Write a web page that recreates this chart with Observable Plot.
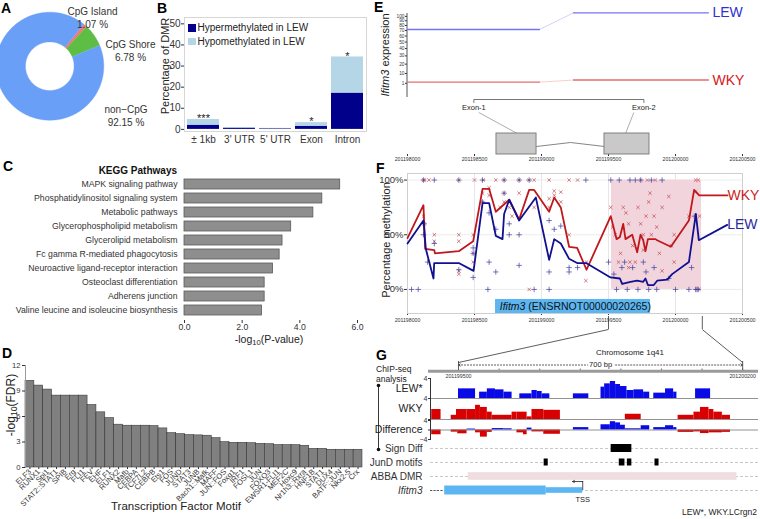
<!DOCTYPE html>
<html><head><meta charset="utf-8">
<script src="https://cdn.jsdelivr.net/npm/d3@7"></script>
<script src="https://cdn.jsdelivr.net/npm/@observablehq/plot@0.6"></script>
<style>
body{margin:0;background:#fff;font-family:"Liberation Sans",Arial,Helvetica,sans-serif}
#fig{position:relative;width:760px;height:519px;overflow:hidden;background:#fff}
#fig svg{position:absolute}
sub{font-size:0.72em;line-height:0;vertical-align:-0.25em}
</style></head>
<body><div id="fig"></div>
<script>
// ---------------- DATA ----------------
// A: CpG context of DMRs
const cpgCategories = ["CpG Island", "CpG Shore", "non\u2212CpG"];
const cpgPercent = [1.07, 6.78, 92.15];
const cpgColors = ["#f07a72", "#5dbd44", "#6a9ff8"];
// B: DMR distribution by genomic region
const regionLabels = ["\u00b1 1kb", "3' UTR", "5' UTR", "Exon", "Intron"];
const hyperValues = [2.0, 0.6, 0.3, 1.5, 17.2];
const hypoValues = [2.7, 0.3, 0.2, 1.7, 17.1];
const regionStars = ["***", "", "", "*", "*"];
const methTypes = ["Hypermethylated in LEW", "Hypomethylated in LEW"];
// C: KEGG pathways
const keggPathways = ["MAPK signaling pathway", "Phosphatidylinositol signaling system", "Metabolic pathways",
  "Glycerophospholipid metabolism", "Glycerolipid metabolism", "Fc gamma R-mediated phagocytosis",
  "Neuroactive ligand-receptor interaction", "Osteoclast differentiation", "Adherens junction",
  "Valine leucine and isoleucine biosynthesis"];
const keggLogP = [5.4, 4.78, 4.47, 3.7, 3.4, 3.3, 3.07, 2.78, 2.78, 2.69];
// D: transcription factor motifs
const tfMotifs = ["ELF3", "RUNX1", "Spi1", "STAT2::STAT1", "SPIB", "Erg", "FLI1", "FEV", "EHF", "ELF1", "RUNX2",
  "Mafb", "CEBPA", "TCF7L2", "CEBPB", "Ets1", "FOS", "JUND", "STAT3", "JUNB", "Bach1::Mafk", "MAFF", "JUN::FOS",
  "Foxq1", "IRF1", "FOSL1", "JUN", "FOXO3", "EWSR1-FLI1", "MEF2C", "Hoxc9", "Nr1h3::Rxra", "HNF1B", "STAT1",
  "DUX4", "BATF::JUN", "Nkx2-5", "Crx"];
const tfLogFDR = [10.2, 9.64, 9.17, 8.46, 8.46, 8.46, 8.46, 7.36, 6.49, 5.82, 5.04, 4.92, 4.92, 4.92, 4.88, 4.6,
  4.05, 3.93, 3.82, 3.78, 3.74, 3.46, 2.99, 2.91, 2.91, 2.87, 2.79, 2.75, 2.64, 2.64, 2.64, 2.56, 2.2, 2.2,
  2.09, 2.09, 2.09, 2.09];
// E: Ifitm3 expression per exon probe
const exprStrains = ["LEW", "WKY"];
const exprColors = ["#7474f2", "#e46e6e"];
const labelColorsE = ["#3030d0", "#d42020"];
const exprProbe1 = [72, 2.0];
const exprProbe2 = [108.6, 3.9];
const probe1Span = [201198000, 201198985];
const probe2Span = [201199239, 201200246];
const exprTicks = [1, 10, 20, 30, 40, 50, 60, 70, 80, 90, 100];
const exonNames = ["Exon-1", "Exon-2"];
const exonStarts = [201198664, 201199470];
const exonEnds = [201198963, 201199806];
const exonLabelPos = [201198495, 201199764];
const genomeTicks = [201198000, 201198500, 201199000, 201199500, 201200000, 201200500];
// F: methylation along Ifitm3 (smoothed lines)
const wkyLine = [[201198000,47],[201198119,77],[201198132,37],[201198200,36],[201198205,33],[201198383,35],[201198490,44],
  [201198560,92],[201198609,92],[201198659,71],[201198759,82],[201198833,64],[201198908,91],[201198945,91],[201199057,71],
  [201199095,84],[201199144,75],[201199206,39],[201199266,38],[201199336,18],[201199517,67],[201199560,46],[201199585,48],
  [201199610,60],[201199627,46],[201199677,50],[201199714,34],[201199739,50],[201199759,45],[201199776,35],[201199794,46],
  [201199851,46],[201199863,45],[201199965,39],[201200100,63],[201200139,91],[201200177,86],[201200388,86]];
const lewLine = [[201198000,42],[201198119,63],[201198137,37],[201198194,10],[201198199,24],[201198386,24],[201198493,17],
  [201198560,79],[201198609,79],[201198659,49],[201198709,46],[201198721,69],[201198759,82],[201198833,63],[201198958,84],
  [201199057,27],[201199095,46],[201199144,42],[201199206,28],[201199269,24],[201199336,24],[201199515,11],[201199585,10],
  [201199602,5],[201199664,7],[201199714,8],[201199759,7],[201199776,10],[201199794,4],[201199838,4],[201199863,8],
  [201199938,9],[201199975,14],[201200100,25],[201200152,69],[201200174,45],[201200386,59]];
// F: per-sample CpG methylation
const wkyPoints = [[201198119,100],[201198125,100],[201198160,100],[201198119,67],[201198125,60],[201198200,50],[201198200,44],
  [201198383,50],[201198383,44],[201198383,17],[201198383,14],[201198383,100],[201198490,33],[201198490,25],[201198490,50],
  [201198500,100],[201198560,88],[201198560,80],[201198565,100],[201198609,93],[201198609,86],[201198659,100],[201198690,75],
  [201198721,88],[201198721,80],[201198721,100],[201198759,75],[201198780,67],[201198833,88],[201198833,100],[201198908,0],
  [201198908,100],[201198945,75],[201198945,100],[201199057,83],[201199057,75],[201199057,100],[201199095,90],[201199095,86],
  [201199144,89],[201199144,80],[201199206,50],[201199206,100],[201199269,100],[201199331,8],[201199336,25],
  [201199517,75],[201199530,57],[201199550,50],[201199575,25],[201199590,33],[201199610,75],[201199630,70],[201199650,60],
  [201199660,25],[201199680,40],[201199700,25],[201199720,75],[201199740,60],[201199760,50],[201199780,67],[201199800,80],
  [201199820,50],[201199840,67],[201199860,57],[201199880,33],[201199900,75],[201199950,85],[201199970,40],[201199990,25],
  [201200100,67],[201200150,89],[201200180,67],[201199850,100],[201199790,100],[201199740,100],[201199810,88],[201199760,36],
  [201199650,20],[201199900,17],[201199990,50],[201200150,100],[201200170,100],[201200175,0]];
const lewPoints = [[201198030,0],[201198080,0],[201198119,50],[201198119,100],[201198125,60],[201198150,25],[201198200,42],
  [201198200,100],[201198383,18],[201198383,100],[201198490,11],[201198490,33],[201198490,38],[201198560,80],[201198560,100],
  [201198600,0],[201198609,70],[201198609,25],[201198659,55],[201198659,16],[201198721,88],[201198721,100],[201198759,50],
  [201198759,60],[201198833,50],[201198833,22],[201198833,100],[201198908,100],[201198945,0],[201199057,16],[201199057,0],
  [201199057,63],[201199095,55],[201199144,58],[201199206,20],[201199206,16],[201199269,20],[201199331,100],
  [201199500,25],[201199517,100],[201199540,14],[201199560,0],[201199580,100],[201199600,20],[201199620,25],[201199640,0],
  [201199660,100],[201199680,20],[201199700,100],[201199720,0],[201199740,100],[201199760,25],[201199780,16],[201199800,0],
  [201199820,100],[201199840,20],[201199860,0],[201199900,100],[201199950,10],[201200000,0],[201200100,0],[201200150,0],
  [201200160,0],[201200170,0],[201200140,67],[201200120,20]];
const abbaDmr = [201199522, 201200194];
const transcript = {name: "Ifitm3", id: " (ENSRNOT00000020265)", start: 201198657, split: 201198880, end: 201199813};
// G: ChIP-seq tracks [start, end, value]
const lewTrack = [[201199500,201199542,1.93],[201199552,201199571,1.27],[201199571,201199591,1.93],[201199591,201199612,1.73],
  [201199612,201199632,1.27],[201199651,201199681,0.93],[201199681,201199694,1.6],[201199694,201199706,1.4],[201199706,201199725,0.93],
  [201199783,201199821,0.93],[201199851,201199860,2.27],[201199860,201199874,2.93],[201199874,201199887,3.4],[201199887,201199899,2.8],
  [201199899,201199915,2.4],[201199915,201199932,1.6],[201199932,201199956,1.73],[201199956,201199971,1.27],[201199981,201200010,1.07],
  [201200010,201200030,1.93],[201200030,201200038,1.27],[201200084,201200121,1.93]];
const wkyTrack = [[201199434,201199457,1.9],[201199482,201199495,0.8],[201199495,201199521,1.9],[201199521,201199542,1.9],
  [201199542,201199554,2.7],[201199554,201199571,2.3],[201199571,201199583,1.4],[201199583,201199632,0.8],[201199632,201199644,1.4],
  [201199644,201199669,1.4],[201199669,201199681,0.5],[201199681,201199710,1.9],[201199710,201199751,1.75],[201199911,201199950,1.0],
  [201200041,201200080,0.8],[201200080,201200096,1.4],[201200096,201200117,2.3],[201200117,201200129,1.9],[201200129,201200150,1.4],
  [201200150,201200170,0.8]];
const diffTrack = [[201199434,201199457,-2.0],[201199482,201199498,-0.9],[201199498,201199521,-1.6],[201199521,201199542,0.4],
  [201199542,201199554,-1.2],[201199554,201199571,-3.0],[201199571,201199583,-1.0],[201199583,201199612,0.6],[201199612,201199632,0.5],
  [201199644,201199660,-1.2],[201199660,201199669,-2.0],[201199669,201199681,0.8],[201199681,201199710,-0.8],[201199710,201199751,-1.8],
  [201199783,201199821,1.0],[201199851,201199874,2.2],[201199874,201199887,3.5],[201199887,201199899,3.0],[201199899,201199911,2.0],
  [201199911,201199950,0.5],[201199950,201199971,1.8],[201199981,201200010,1.0],[201200010,201200030,1.8],[201200030,201200038,1.0],
  [201200041,201200080,-1.0],[201200080,201200096,-0.8],[201200096,201200117,-1.5],[201200117,201200150,-1.2],[201200150,201200170,-1.0]];
const featureTracks = ["Sign Diff", "JunD motifs", "ABBA DMR", "Ifitm3"];
const signDiff = [[201199876, 201199927]];
const jundMotifs = [[201199711,201199721],[201199896,201199910],[201199916,201199927],[201199984,201199994]];
const abbaDmrG = [[201199524, 201200186]];
const geneThick = [[201199466, 201199716]];
const geneThin = [[201199716, 201199806]];
const tssPos = 201199806;
const zoomWindow = [201199500, 201200200];
const rulerTicks = [201199500, 201199600, 201199700, 201199800, 201199900, 201200000, 201200100, 201200200];

// ---------------- HELPERS ----------------
const fig = document.getElementById("fig");
const FONT = '"Liberation Sans", Arial, Helvetica, sans-serif';
function put(svg, left, top) { svg.style.left = left + "px"; svg.style.top = top + "px"; fig.appendChild(svg); return svg; }
function txt(html, x, y, o = {}) {
  const d = document.createElement("div");
  d.innerHTML = html;
  const ax = o.ax ?? -50;
  d.style.cssText = `position:absolute;left:${x}px;top:${y}px;white-space:nowrap;line-height:1;font-size:${o.size || 10}px;` +
    `color:${o.color || "#222"};font-weight:${o.weight || "normal"};font-style:${o.style || "normal"};` +
    `transform:translate(${ax}%,-50%)${o.rot ? ` rotate(${o.rot}deg)` : ""};`;
  fig.appendChild(d);
  return d;
}
const baseStyle = (size) => ({background: "transparent", fontFamily: FONT, fontSize: size + "px", color: "#333", overflow: "visible"});

// ---------------- A: donut ----------------
{
  const start = 39 * Math.PI / 180;
  const R = 54, r0 = 24.3;
  const arcs = d3.pie().sort(null).startAngle(start).endAngle(start + 2 * Math.PI)(cpgPercent);
  const ring = [];
  arcs.forEach((s, i) => {
    const n = Math.max(6, Math.ceil((s.endAngle - s.startAngle) * 80));
    for (let k = 0; k <= n; k++) { const a = s.startAngle + (s.endAngle - s.startAngle) * k / n; ring.push({cat: cpgCategories[i], x: R * Math.sin(a), y: -R * Math.cos(a)}); }
    for (let k = n; k >= 0; k--) { const a = s.startAngle + (s.endAngle - s.startAngle) * k / n; ring.push({cat: cpgCategories[i], x: r0 * Math.sin(a), y: -r0 * Math.cos(a)}); }
  });
  const labelAnchor = [[42.7, -49.2], [80.7, -16.2], [76.2, 49.3]];
  const labels = cpgCategories.map((c, i) => ({x: labelAnchor[i][0], y: labelAnchor[i][1], t: `${c}\n${cpgPercent[i].toFixed(2)} %`}));
  put(Plot.plot({
    width: 190, height: 130, margin: 0, style: baseStyle(10),
    x: {domain: [-49.3, 140.7], axis: null},
    y: {domain: [-65.7, 64.3], range: [0, 130], axis: null},
    color: {domain: cpgCategories, range: cpgColors},
    marks: [
      Plot.line(ring, {x: "x", y: "y", z: "cat", fill: "cat", stroke: "cat", strokeWidth: 0.4}),
      Plot.text(labels, {x: "x", y: "y", text: "t", lineHeight: 1.3, fontSize: 10, fill: "#333"})
    ]
  }), 0, 0);
}

// ---------------- B: stacked bars ----------------
{
  const bData = regionLabels.flatMap((r, i) => [
    {r, type: methTypes[0], v: hyperValues[i]},
    {r, type: methTypes[1], v: hypoValues[i]}]);
  put(Plot.plot({
    width: 215, height: 135, marginLeft: 24, marginTop: 7, marginBottom: 14, marginRight: 9,
    style: baseStyle(10),
    x: {domain: regionLabels, paddingInner: 0.11, paddingOuter: 0.08, tickSize: 0, tickPadding: 4, label: null},
    y: {domain: [-1, 53], ticks: [0, 10, 20, 30, 40, 50], tickSize: 3, tickPadding: 1, label: null},
    color: {domain: methTypes, range: ["#00008b", "#b4d6e6"]},
    marks: [
      Plot.frame({stroke: "#d6d6d6"}),
      Plot.barY(bData, {x: "r", y: "v", fill: "type"}),
      Plot.text(regionLabels, {x: d => d, y: (d, i) => hyperValues[i] + hypoValues[i], text: (d, i) => regionStars[i], dy: -1, fontSize: 11, fill: "#222"})
    ]
  }), 160, 10);
  const leg = document.createElement("div");
  leg.style.cssText = "position:absolute;left:188px;top:21px;font-size:10px;line-height:13.5px;color:#222";
  leg.innerHTML = methTypes.map((t, i) => `<div style="white-space:nowrap"><span style="display:inline-block;width:7.5px;height:7.5px;background:${i ? "#b4d6e6" : "#00008b"};margin-right:2px;vertical-align:-0.5px"></span>${t}</div>`).join("");
  fig.appendChild(leg);
  txt("Percentage of DMR", 165, 66, {size: 11, rot: -90, color: "#222"});
}

// ---------------- C: KEGG ----------------
{
  const cData = keggPathways.map((p, i) => ({p, v: keggLogP[i]}));
  put(Plot.plot({
    width: 375, height: 185, marginLeft: 184, marginRight: 18, marginTop: 13, marginBottom: 25,
    style: baseStyle(8.7),
    x: {domain: [0, 6], ticks: [0, 2, 4, 6], tickSize: 3, tickPadding: 0, label: null},
    y: {domain: keggPathways, paddingInner: 0.3, paddingOuter: 0.3, tickSize: 0, tickPadding: 7, label: null},
    marks: [
      Plot.barX(cData, {x: "v", y: "p", fill: "#8e8e8e", stroke: "#5a5a5a", strokeWidth: 0.8})
    ]
  }), 0, 160);
  txt("KEGG Pathways", 177, 171, {size: 10, weight: "bold", ax: -100, color: "#111"});
  txt("-log<sub>10</sub>(P-value)", 269, 339, {size: 10.5, color: "#222"});
}

// ---------------- D: TF motifs ----------------
{
  const dData = tfMotifs.map((m, i) => ({m, v: tfLogFDR[i]}));
  put(Plot.plot({
    width: 375, height: 174, marginTop: 20, marginBottom: 52, marginLeft: 25, marginRight: 13,
    style: baseStyle(7.6),
    x: {domain: tfMotifs, padding: 0, tickRotate: -45, tickSize: 2, tickPadding: 1, label: null},
    y: {domain: [0, 12], ticks: [0, 3, 6, 9, 12], tickSize: 3, tickPadding: 2, label: null},
    marks: [
      Plot.barY(dData, {x: "m", y: "v", fill: "#808080", stroke: "#2a2a2a", strokeWidth: 0.5}),
      Plot.frame({anchor: "left", stroke: "#9a9a9a"})
    ]
  }), 0, 345);
  txt("-log<sub>10</sub>(FDR)", 11, 405, {size: 12, rot: -90, color: "#222"});
  txt("Transcription Factor Motif", 176, 507, {size: 11.5, color: "#222"});
}

// ---------------- E: expression ----------------
{
  const eMarks = [Plot.ruleX([probe1Span[0]], {x: d => d, stroke: "#555", dx: -0.5})];
  exprStrains.forEach((s, i) => {
    const pts = [
      {seg: 1, x: probe1Span[0], y: exprProbe1[i]}, {seg: 1, x: probe1Span[1], y: exprProbe1[i]},
      {seg: 2, x: probe2Span[0], y: exprProbe2[i]}, {seg: 2, x: probe2Span[1], y: exprProbe2[i]}];
    const join = [{x: probe1Span[1], y: exprProbe1[i]}, {x: probe2Span[0], y: exprProbe2[i]}];
    eMarks.push(
      Plot.line(join, {x: "x", y: "y", stroke: exprColors[i], strokeOpacity: 0.35, strokeDasharray: "2,1", strokeWidth: 1}),
      Plot.line(pts, {x: "x", y: "y", z: "seg", stroke: exprColors[i], strokeWidth: 1.3}),
      Plot.text([{x: probe2Span[1], y: exprProbe2[i], s}], {x: "x", y: "y", text: "s", fill: labelColorsE[i], textAnchor: "start", dx: 4, fontSize: 14})
    );
  });
  put(Plot.plot({
    width: 380, height: 100, marginLeft: 27, marginRight: 18, marginTop: 13, marginBottom: 3,
    style: baseStyle(4.8),
    x: {domain: [genomeTicks[0], genomeTicks[genomeTicks.length - 1]], axis: null},
    y: {type: "symlog", constant: 55, domain: [-12, 107], ticks: exprTicks, tickSize: 2, tickPadding: 1, label: null},
    marks: eMarks
  }), 380, 0);
  txt("<i>Ifitm3</i> expression", 385, 55, {size: 11, rot: -90, color: "#222"});

  const exons = exonNames.map((n, i) => ({n, x1: exonStarts[i], x2: exonEnds[i], lx: exonLabelPos[i]}));
  const intron = [{x: exonEnds[0], y: 146}, {x: (exonEnds[0] + exonStarts[1]) / 2, y: 142}, {x: exonStarts[1], y: 146}];
  const bracket = [{x: exonLabelPos[0], y: 102}, {x: exonLabelPos[0], y: 99}, {x: exonLabelPos[1], y: 99}, {x: exonLabelPos[1], y: 102}];
  const diag = [{x1: 201198532, y1: 112, x2: 201198819, y2: 133}, {x1: 201199689, y1: 112, x2: 201199627, y2: 133}];
  put(Plot.plot({
    width: 380, height: 70, marginLeft: 27, marginRight: 18, marginTop: 0, marginBottom: 11,
    style: baseStyle(5.2),
    x: {domain: [genomeTicks[0], genomeTicks[genomeTicks.length - 1]], ticks: genomeTicks, tickFormat: d => String(d), tickSize: 2, tickPadding: 1, label: null},
    y: {domain: [95, 154], range: [0, 59], axis: null},
    marks: [
      Plot.line(bracket, {x: "x", y: "y", stroke: "#666", strokeWidth: 0.9}),
      Plot.text(exons, {x: "lx", y: () => 107.5, text: "n", fontSize: 7.5, fill: "#222"}),
      Plot.link(diag, {x1: "x1", y1: "y1", x2: "x2", y2: "y2", stroke: "#999", strokeWidth: 0.8}),
      Plot.line(intron, {x: "x", y: "y", stroke: "#777", strokeWidth: 0.9}),
      Plot.rect(exons, {x1: "x1", x2: "x2", y1: () => 133, y2: () => 154, fill: "#c9c9c9", stroke: "#777", strokeWidth: 0.9})
    ]
  }), 380, 95);
}

// ---------------- F: methylation ----------------
let fPlot;
{
  const toObj = (a, s) => a.map(([x, y]) => ({x, y, s}));
  const wl = toObj(wkyLine, "WKY"), ll = toObj(lewLine, "LEW");
  fPlot = Plot.plot({
    width: 380, height: 170, marginLeft: 27, marginRight: 18, marginTop: 13, marginBottom: 17,
    style: baseStyle(5.2),
    x: {domain: [genomeTicks[0], genomeTicks[genomeTicks.length - 1]], ticks: genomeTicks, tickFormat: d => String(d), tickSize: 2, tickPadding: 3, label: null},
    y: {domain: [-22, 106], ticks: [0, 50, 100], tickFormat: d => d + "%", tickSize: 3, tickPadding: 1, label: null},
    marks: [
      Plot.gridX(genomeTicks, {stroke: "#e6e6e6", strokeOpacity: 1}),
      Plot.gridY([0, 50, 100], {stroke: "#ececec", strokeOpacity: 1}),
      Plot.frame({stroke: "#cfcfcf"}),
      Plot.rect([abbaDmr], {x1: d => d[0], x2: d => d[1], y1: () => 0, y2: () => 100, fill: "#f2d5dc"}),
      Plot.dot(toObj(wkyPoints), {x: "x", y: "y", symbol: "times", r: 1.7, stroke: "#c2484f", strokeWidth: 0.7}),
      Plot.dot(toObj(lewPoints), {x: "x", y: "y", symbol: "plus", r: 1.9, stroke: "#3d3d9e", strokeWidth: 0.7}),
      Plot.line(wl, {x: "x", y: "y", stroke: "#c0171c", strokeWidth: 1.8}),
      Plot.line(ll, {x: "x", y: "y", stroke: "#101090", strokeWidth: 1.8}),
      Plot.text([wl[wl.length - 1]], {x: "x", y: "y", text: "s", textAnchor: "start", dx: 0, fontSize: 14, fill: "#c81e1e"}),
      Plot.text([ll[ll.length - 1]], {x: "x", y: "y", text: "s", textAnchor: "start", dx: 0, fontSize: 14, fill: "#2a2aa0"}),
      Plot.rect([transcript], {x1: "start", x2: "end", y1: () => -22, y2: () => -9.2, fill: "#5bb6f2"}),
      Plot.text([transcript], {x: "split", y: () => -15.6, text: "name", textAnchor: "end", fontSize: 10.5, fontStyle: "italic", fill: "#111"}),
      Plot.text([transcript], {x: "split", y: () => -15.6, text: "id", textAnchor: "start", fontSize: 10.5, fill: "#111"})
    ]
  });
  fPlot.querySelectorAll("g[aria-label='y-axis tick label'] text").forEach(t => t.setAttribute("font-size", "9.5"));
  put(fPlot, 380, 160);
  txt("Percentage methylation", 386, 240, {size: 11, rot: -90, color: "#222"});
}

// ---------------- G: ChIP-seq ----------------
{
  const gDomain = [201199431, 201200239];
  const gx = {domain: gDomain, axis: null};
  const common = {width: 380, marginLeft: 50, marginRight: 2};
  const recs = a => a.map(([s, e, v]) => ({s, e, v}));
  const lewP = Plot.plot({
    ...common, height: 24, marginTop: 2, marginBottom: 2, style: baseStyle(7), x: gx,
    y: {domain: [0, 4], ticks: [0, 4], tickFormat: d => d === 4 ? "4" : "", tickSize: 2, tickPadding: 1, label: null},
    marks: [
      Plot.rect(recs(lewTrack), {x1: "s", x2: "e", y1: () => 0, y2: "v", fill: "#0a0ae6"}),
      Plot.ruleY([0], {stroke: "#777", strokeWidth: 0.8}),
      Plot.frame({anchor: "left", stroke: "#333"}),
      Plot.text(["LEW*"], {text: d => d, frameAnchor: "left", dx: -8, textAnchor: "end", fontSize: 10.5, fill: "#222"})
    ]
  });
  put(lewP, 380, 376);
  put(Plot.plot({
    ...common, height: 25, marginTop: 2, marginBottom: 2, style: baseStyle(7), x: gx,
    y: {domain: [0, 4], ticks: [0, 4], tickFormat: d => d === 4 ? "4" : "", tickSize: 2, tickPadding: 1, label: null},
    marks: [
      Plot.rect(recs(wkyTrack), {x1: "s", x2: "e", y1: () => 0, y2: "v", fill: "#d80000"}),
      Plot.ruleY([0], {stroke: "#777", strokeWidth: 0.8}),
      Plot.frame({anchor: "left", stroke: "#333"}),
      Plot.text(["WKY"], {text: d => d, frameAnchor: "left", dx: -8, textAnchor: "end", fontSize: 10.5, fill: "#222"})
    ]
  }), 380, 396);
  put(Plot.plot({
    ...common, height: 23, marginTop: 2, marginBottom: 2, style: baseStyle(7), x: gx,
    y: {domain: [-4, 4], ticks: [-4, 0, 4], tickFormat: d => d === 4 ? "4" : d === -4 ? "\u22124" : "", tickSize: 2, tickPadding: 1, label: null},
    marks: [
      Plot.rect(recs(diffTrack), {x1: "s", x2: "e", y1: () => 0, y2: "v", fill: d => d.v > 0 ? "#0a0ae6" : "#d80000"}),
      Plot.ruleY([0], {stroke: "#777", strokeWidth: 0.8}),
      Plot.frame({anchor: "left", stroke: "#333"}),
      Plot.text(["Difference"], {text: d => d, frameAnchor: "left", dx: -8, textAnchor: "end", fontSize: 10.5, fill: "#222"})
    ]
  }), 380, 418);
  const feat = (arr, track) => arr.map(([s, e]) => ({s, e, track}));
  const featP = Plot.plot({
    ...common, height: 58, marginTop: 1, marginBottom: 1, style: baseStyle(10), x: gx,
    y: {domain: featureTracks, padding: 0, tickSize: 0, tickPadding: 8, label: null},
    marks: [
      Plot.ruleY(featureTracks, {y: d => d, stroke: "#c8c8c8", strokeDasharray: "3,2"}),
      Plot.ruleY(["Ifitm3"], {y: d => d, x1: gDomain[0], x2: geneThick[0][0], stroke: "#555", strokeDasharray: "2,1.5"}),
      Plot.rect(feat(signDiff, "Sign Diff"), {x1: "s", x2: "e", y: "track", insetTop: 3, insetBottom: 3, fill: "#000"}),
      Plot.rect(feat(jundMotifs, "JunD motifs"), {x1: "s", x2: "e", y: "track", insetTop: 3.5, insetBottom: 3.5, fill: "#000"}),
      Plot.rect(feat(abbaDmrG, "ABBA DMR"), {x1: "s", x2: "e", y: "track", insetTop: 3.2, insetBottom: 3.2, fill: "#f0dde0"}),
      Plot.rect(feat(geneThick, "Ifitm3"), {x1: "s", x2: "e", y: "track", insetTop: 2.5, insetBottom: 2.5, fill: "#5bb6f2"}),
      Plot.rect(feat(geneThin, "Ifitm3"), {x1: "s", x2: "e", y: "track", insetTop: 4.2, insetBottom: 4.2, fill: "#5bb6f2"}),
      Plot.tickX([tssPos], {x: d => d, y: () => "Ifitm3", insetTop: -2, insetBottom: 7, stroke: "#222", strokeWidth: 0.8}),
      Plot.arrow([tssPos], {x1: d => d, x2: d => d - 25, y1: () => "Ifitm3", y2: () => "Ifitm3", dy: -9, stroke: "#222", strokeWidth: 0.8, headLength: 4}),
      Plot.text([tssPos], {x: d => d, y: () => "Ifitm3", text: () => "TSS", dy: 9, fontSize: 7.5, fill: "#222"})
    ]
  });
  featP.querySelectorAll("text").forEach(t => { if (t.textContent === "Ifitm3") t.setAttribute("font-style", "italic"); });
  put(featP, 380, 440);

  // ruler & zoom connectors, positioned from F's and G's own scales
  const fx = fPlot.scale("x"), gxs = lewP.scale("x");
  const toG = bp => gxs.invert(fx.apply(bp));
  const fBottom = 329;
  const conn = zoomWindow.map(bp => ({x1: toG(bp), y1: fBottom, x2: bp, y2: 362}));
  const mid = (zoomWindow[0] + zoomWindow[1]) / 2;
  const bracketX = gxs.invert(378 - 380);
  put(Plot.plot({
    width: 390, height: 140, marginLeft: 60, marginRight: 2, marginTop: 0, marginBottom: 0,
    style: baseStyle(5.2), x: gx, y: {domain: [315, 455], range: [0, 140], axis: null},
    marks: [
      Plot.ruleX(conn, {x: "x1", y1: 316, y2: fBottom, stroke: "#333", strokeWidth: 0.8}),
      Plot.link(conn, {x1: "x1", y1: "y1", x2: "x2", y2: "y2", stroke: "#333", strokeWidth: 0.8}),
      Plot.ruleX(zoomWindow, {x: d => d, y1: 361, y2: 371, stroke: "#333", strokeWidth: 0.8}),
      Plot.arrow(zoomWindow, {x1: () => mid, x2: d => d, y1: () => 364.5, y2: () => 364.5, stroke: "#333", strokeWidth: 0.8, strokeDasharray: "1.2,1.8", headLength: 4}),
      Plot.text([mid], {x: d => d, y: () => 364.5, text: () => "700 bp", fontSize: 7.5, fill: "#222", stroke: "white", strokeWidth: 5}),
      Plot.ruleY([370.8], {y: d => d, x1: gDomain[0] - 5, x2: gDomain[1], stroke: "#9a9a9a", strokeWidth: 3}),
      Plot.ruleX(rulerTicks, {x: d => d, y1: 368.5, y2: 370, stroke: "#555", strokeWidth: 0.8}),
      Plot.text(zoomWindow, {x: d => d, y: () => 376, text: d => String(d), fontSize: 5.3, fill: "#333"}),
      Plot.ruleX([bracketX], {x: d => d, y1: 385, y2: 449, stroke: "#222", strokeWidth: 0.9}),
      Plot.dot([385, 449], {x: () => bracketX, y: d => d, r: 1.8, fill: "#111"})
    ]
  }), 370, 315);
  txt("Chromosome 1q41", 630, 353, {size: 8, color: "#222"});
  txt("ChIP-seq", 376, 369, {size: 8.5, ax: 0, color: "#222"});
  txt("analysis", 376, 379, {size: 8.5, ax: 0, color: "#222"});
  txt("LEW*, WKY.LCrgn2", 757, 512, {size: 8.5, ax: -100, color: "#222"});
}

// ---------------- panel letters ----------------
[["A", 1, 8], ["B", 157, 8], ["C", 3, 166], ["D", 2, 353], ["E", 374, 7], ["F", 376, 168], ["G", 376, 355]]
  .forEach(([l, x, y]) => txt(l, x, y, {size: 14, weight: "bold", ax: 0, color: "#000"}));
</script>
</body></html>
